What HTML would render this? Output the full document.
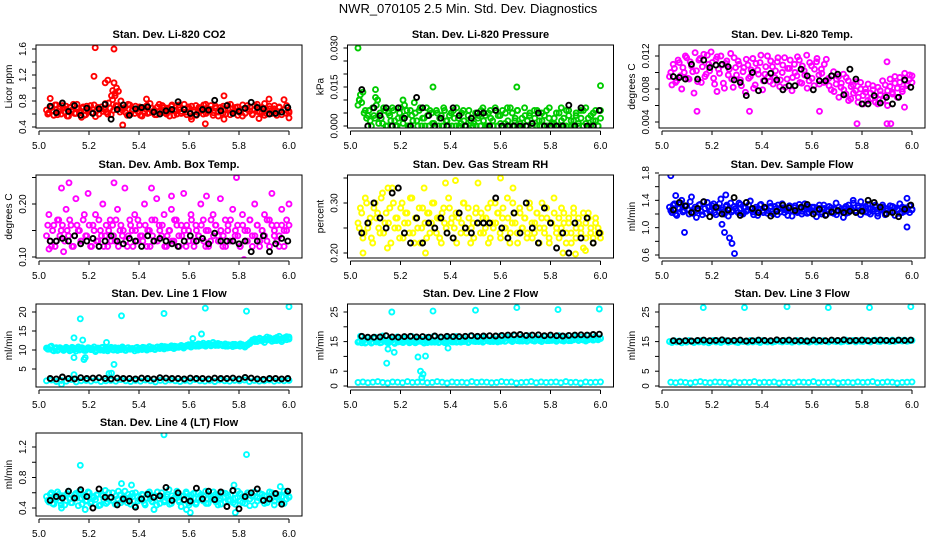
<!DOCTYPE html>
<html><head><meta charset="utf-8"><style>
html,body{margin:0;padding:0;background:#fff}
svg{display:block}
text{font-family:"Liberation Sans",sans-serif;fill:#000}
</style></head><body>
<svg id="chart" width="936" height="540" viewBox="0 0 936 540" xmlns="http://www.w3.org/2000/svg">
<rect width="936" height="540" fill="#fff"/>
<text x="468" y="13" text-anchor="middle" font-size="13">NWR_070105  2.5 Min. Std. Dev. Diagnostics</text>
</svg>
<script>
// ---- data arrays ----
const xTickLabels=["5.0","5.2","5.4","5.6","5.8","6.0"];
const co2Main=[0.66,0.62,0.70,0.58,0.74,0.64,0.60,0.69,0.72,0.57,0.65,0.75,0.61,0.68,0.63,0.71,0.59,0.66,0.73,0.62,0.56,0.70,0.67,0.64,0.76,0.60,0.69,0.82,0.88,0.72,0.63,0.66,0.70,0.58,0.74,0.65,0.61,0.68,0.71,0.57,0.64,0.73,0.62,0.69,0.66,0.59,0.75,0.63,0.70,0.60,0.67,0.72,0.58,0.65,0.74,0.61,0.68,0.63,0.71,0.56,0.66,0.73,0.62,0.69,0.60,0.75,0.64,0.67,0.58,0.72,0.63,0.70,0.61,0.66,0.74,0.59,0.68,0.65,0.71,0.62,0.57,0.69,0.73,0.64,0.60,0.67,0.75,0.63,0.70,0.58,0.66,0.72,0.61,0.68,0.64,0.71,0.59,0.66,0.73,0.62];
const co2Main2=[0.60,0.71,0.65,0.74,0.59,0.68,0.73,0.63,0.57,0.70,0.66,0.61,0.75,0.64,0.69,0.58,0.72,0.67,0.62,0.74,0.65,0.60,0.71,0.68,0.63,0.77,0.59,0.66,0.73,0.95,0.80,0.69,0.62,0.75,0.60,0.67,0.72,0.64,0.58,0.70,0.68,0.61,0.76,0.63,0.59,0.71,0.65,0.73,0.62,0.69,0.57,0.74,0.66,0.60,0.70,0.64,0.75,0.59,0.68,0.72,0.63,0.58,0.70,0.65,0.74,0.61,0.67,0.73,0.62,0.69,0.57,0.66,0.72,0.60,0.68,0.75,0.63,0.70,0.58,0.66,0.74,0.61,0.67,0.71,0.59,0.73,0.64,0.69,0.62,0.76,0.60,0.68,0.65,0.73,0.58,0.70,0.63,0.67,0.61,0.64];
const co2OutX=[5.225,5.30,5.22,5.265,5.275,5.30,5.31,5.295,5.29,5.305,5.045,5.335,5.74,5.665,5.92,5.98,5.61,5.74,5.88,6.0,5.43,5.17];
const co2OutY=[1.62,1.60,1.18,1.08,1.12,1.08,1.0,0.96,0.88,0.92,0.84,0.43,0.88,0.45,0.83,0.82,0.52,0.52,0.53,0.54,0.83,0.55];
const co2Black=[0.72,0.62,0.77,0.64,0.73,0.58,0.69,0.61,0.68,0.75,0.52,0.67,0.74,0.58,0.68,0.70,0.71,0.63,0.60,0.65,0.67,0.79,0.67,0.61,0.59,0.67,0.66,0.81,0.65,0.73,0.61,0.64,0.69,0.78,0.70,0.68,0.60,0.61,0.63,0.70];

const presMain=[0.008,0.012,0.013,0.006,0.004,0.002,0.007,0.003,0.010,0.005,0.001,0.006,0.000,0.004,0.007,0.002,0.000,0.005,0.003,0.008,0.006,0.000,0.004,0.009,0.002,0.006,0.000,0.003,0.007,0.000,0.005,0.001,0.006,0.000,0.004,0.007,0.002,0.000,0.005,0.006,0.000,0.003,0.001,0.006,0.000,0.004,0.002,0.000,0.005,0.003,0.000,0.007,0.004,0.000,0.006,0.002,0.007,0.000,0.004,0.006,0.001,0.007,0.000,0.005,0.002,0.006,0.000,0.003,0.007,0.000,0.004,0.001,0.006,0.000,0.002,0.005,0.000,0.006,0.003,0.000,0.001,0.005,0.000,0.007,0.003,0.000,0.006,0.002,0.000,0.004,0.001,0.006,0.000,0.007,0.003,0.000,0.005,0.002,0.000,0.006];
const presMain2=[0.010,0.009,0.005,0.003,0.006,0.000,0.004,0.008,0.001,0.003,0.007,0.000,0.005,0.002,0.006,0.000,0.003,0.007,0.001,0.004,0.000,0.006,0.002,0.005,0.000,0.007,0.003,0.000,0.004,0.006,0.001,0.000,0.005,0.003,0.000,0.006,0.002,0.004,0.000,0.003,0.007,0.000,0.005,0.002,0.000,0.006,0.003,0.001,0.000,0.004,0.006,0.002,0.000,0.005,0.003,0.000,0.006,0.004,0.001,0.000,0.005,0.002,0.007,0.000,0.003,0.006,0.001,0.000,0.004,0.002,0.005,0.000,0.003,0.006,0.000,0.002,0.004,0.000,0.007,0.001,0.003,0.000,0.005,0.002,0.000,0.006,0.004,0.000,0.002,0.005,0.000,0.003,0.006,0.001,0.000,0.004,0.002,0.006,0.000,0.003];
const presOutX=[5.03,5.10,5.10,5.33,5.665,6.0,5.035,5.21];
const presOutY=[0.030,0.014,0.011,0.015,0.015,0.0155,0.010,0.010];
const presBlack=[0.014,0.000,0.007,0.004,0.007,0.000,0.007,0.003,0.000,0.011,0.007,0.004,0.000,0.003,0.000,0.007,0.004,0.000,0.003,0.005,0.005,0.000,0.006,0.000,0.000,0.000,0.000,0.000,0.001,0.005,0.000,0.000,0.000,0.000,0.008,0.000,0.007,0.000,0.000,0.006];

const tempMain=[0.0095,0.0085,0.0105,0.0090,0.0112,0.0080,0.0100,0.0118,0.0092,0.0108,0.0075,0.0102,0.0115,0.0088,0.0122,0.0098,0.0110,0.0125,0.0093,0.0116,0.0104,0.0120,0.0087,0.0111,0.0097,0.0123,0.0082,0.0106,0.0114,0.0091,0.0101,0.0076,0.0109,0.0095,0.0117,0.0085,0.0103,0.0112,0.0079,0.0098,0.0120,0.0089,0.0107,0.0094,0.0113,0.0083,0.0100,0.0118,0.0092,0.0105,0.0078,0.0110,0.0096,0.0115,0.0087,0.0102,0.0121,0.0090,0.0108,0.0084,0.0113,0.0097,0.0104,0.0088,0.0116,0.0093,0.0079,0.0101,0.0086,0.0095,0.0082,0.0098,0.0074,0.0090,0.0068,0.0085,0.0078,0.0064,0.0088,0.0072,0.0080,0.0066,0.0075,0.0084,0.0070,0.0062,0.0078,0.0090,0.0072,0.0060,0.0083,0.0076,0.0095,0.0070,0.0088,0.0080,0.0099,0.0086,0.0092,0.0096];
const tempMain2=[0.0100,0.0110,0.0088,0.0115,0.0096,0.0106,0.0120,0.0093,0.0113,0.0101,0.0124,0.0089,0.0117,0.0107,0.0095,0.0121,0.0102,0.0112,0.0086,0.0119,0.0099,0.0109,0.0081,0.0114,0.0104,0.0092,0.0118,0.0097,0.0110,0.0084,0.0106,0.0116,0.0093,0.0103,0.0081,0.0111,0.0098,0.0121,0.0090,0.0107,0.0095,0.0114,0.0086,0.0102,0.0118,0.0091,0.0109,0.0082,0.0105,0.0115,0.0094,0.0100,0.0119,0.0088,0.0108,0.0097,0.0081,0.0112,0.0093,0.0104,0.0117,0.0086,0.0099,0.0110,0.0091,0.0084,0.0096,0.0077,0.0092,0.0070,0.0087,0.0079,0.0094,0.0066,0.0083,0.0075,0.0089,0.0070,0.0080,0.0062,0.0076,0.0086,0.0068,0.0079,0.0064,0.0082,0.0073,0.0066,0.0085,0.0078,0.0092,0.0074,0.0087,0.0081,0.0094,0.0077,0.0090,0.0084,0.0097,0.0088];
const tempOutX=[5.14,5.35,5.63,5.78,5.9,5.915,5.9,5.97,5.22];
const tempOutY=[0.0053,0.0053,0.0053,0.0038,0.0038,0.0038,0.0113,0.0058,0.0077];
const tempBlack=[0.0095,0.0094,0.0092,0.0110,0.0092,0.0115,0.0106,0.0109,0.0110,0.0107,0.0091,0.0088,0.0072,0.0100,0.0078,0.0090,0.0099,0.0091,0.0079,0.0084,0.0084,0.0104,0.0096,0.0079,0.0090,0.0090,0.0096,0.0098,0.0073,0.0104,0.0092,0.0062,0.0062,0.0072,0.0063,0.0070,0.0062,0.0070,0.0091,0.0082];

const ambMain=[0.14,0.18,0.12,0.16,0.13,0.17,0.15,0.11,0.19,0.14,0.16,0.12,0.21,0.15,0.13,0.17,0.14,0.22,0.12,0.16,0.18,0.13,0.15,0.20,0.14,0.12,0.17,0.16,0.13,0.19,0.15,0.14,0.23,0.12,0.17,0.15,0.18,0.13,0.16,0.14,0.20,0.12,0.15,0.17,0.13,0.21,0.16,0.14,0.18,0.12,0.15,0.19,0.13,0.17,0.14,0.16,0.22,0.12,0.15,0.18,0.13,0.16,0.14,0.20,0.17,0.12,0.15,0.13,0.18,0.16,0.14,0.21,0.12,0.17,0.15,0.13,0.19,0.14,0.16,0.12,0.18,0.15,0.13,0.17,0.14,0.20,0.16,0.12,0.15,0.18,0.13,0.17,0.22,0.14,0.16,0.12,0.19,0.15,0.17,0.20];
const ambMain2=[0.16,0.13,0.15,0.12,0.17,0.14,0.16,0.13,0.15,0.17,0.12,0.14,0.16,0.15,0.13,0.18,0.14,0.16,0.12,0.15,0.13,0.17,0.14,0.12,0.16,0.15,0.13,0.14,0.17,0.12,0.16,0.15,0.13,0.14,0.16,0.12,0.15,0.17,0.14,0.13,0.16,0.15,0.12,0.14,0.17,0.13,0.15,0.16,0.12,0.14,0.15,0.13,0.17,0.16,0.12,0.14,0.15,0.16,0.13,0.17,0.12,0.15,0.14,0.16,0.13,0.15,0.12,0.17,0.14,0.16,0.13,0.15,0.14,0.12,0.16,0.17,0.13,0.15,0.14,0.12,0.16,0.13,0.15,0.17,0.12,0.14,0.16,0.13,0.15,0.14,0.17,0.12,0.16,0.15,0.13,0.14,0.16,0.12,0.15,0.16];
const ambOutX=[5.04,5.09,5.12,5.30,5.79,5.82,5.45,5.53,5.67];
const ambOutY=[0.115,0.23,0.24,0.24,0.25,0.095,0.23,0.215,0.215];
const ambBlack=[0.13,0.13,0.135,0.13,0.14,0.125,0.13,0.135,0.12,0.13,0.14,0.13,0.125,0.135,0.13,0.12,0.14,0.13,0.135,0.13,0.125,0.12,0.13,0.14,0.13,0.135,0.125,0.145,0.13,0.13,0.13,0.125,0.13,0.11,0.13,0.14,0.11,0.125,0.135,0.13];

const rhMain=[0.26,0.29,0.23,0.31,0.25,0.27,0.22,0.30,0.28,0.24,0.32,0.26,0.21,0.29,0.33,0.25,0.27,0.23,0.30,0.26,0.28,0.24,0.31,0.22,0.27,0.29,0.25,0.33,0.23,0.28,0.26,0.30,0.24,0.27,0.22,0.29,0.25,0.31,0.26,0.23,0.28,0.27,0.24,0.30,0.25,0.29,0.22,0.26,0.28,0.34,0.24,0.27,0.25,0.29,0.23,0.26,0.30,0.28,0.24,0.27,0.25,0.31,0.22,0.26,0.28,0.24,0.29,0.25,0.27,0.23,0.30,0.26,0.24,0.28,0.22,0.27,0.25,0.29,0.23,0.26,0.31,0.24,0.27,0.25,0.28,0.22,0.26,0.24,0.29,0.23,0.27,0.25,0.21,0.26,0.28,0.24,0.23,0.27,0.25,0.24];
const rhMain2=[0.25,0.28,0.24,0.30,0.26,0.23,0.29,0.27,0.25,0.31,0.24,0.28,0.26,0.22,0.30,0.27,0.25,0.29,0.23,0.28,0.26,0.31,0.24,0.27,0.25,0.22,0.29,0.26,0.28,0.24,0.30,0.25,0.27,0.23,0.28,0.26,0.24,0.29,0.27,0.25,0.22,0.28,0.26,0.30,0.24,0.27,0.25,0.23,0.29,0.26,0.28,0.24,0.27,0.22,0.30,0.25,0.26,0.28,0.23,0.29,0.25,0.27,0.24,0.30,0.26,0.22,0.28,0.25,0.27,0.24,0.29,0.23,0.26,0.28,0.25,0.30,0.24,0.27,0.22,0.26,0.28,0.25,0.23,0.29,0.26,0.24,0.27,0.22,0.28,0.25,0.26,0.24,0.28,0.23,0.27,0.25,0.22,0.26,0.24,0.23];
const rhOutX=[5.05,5.15,5.38,5.42,5.60,5.65,5.85,5.90,5.94,5.30];
const rhOutY=[0.20,0.33,0.34,0.345,0.35,0.33,0.20,0.198,0.205,0.20];
const rhBlack=[0.24,0.26,0.30,0.27,0.25,0.32,0.33,0.24,0.22,0.27,0.22,0.26,0.25,0.27,0.24,0.23,0.28,0.25,0.24,0.26,0.26,0.26,0.31,0.25,0.23,0.28,0.24,0.30,0.25,0.22,0.29,0.26,0.21,0.24,0.20,0.26,0.23,0.27,0.22,0.24];

const sfMain=[1.30,1.22,1.35,1.18,1.28,1.40,1.25,1.32,1.20,1.45,1.27,1.15,1.33,1.24,1.38,1.21,1.30,1.26,1.35,1.19,1.29,1.42,1.23,1.31,1.17,1.36,1.25,1.28,1.22,1.34,1.20,1.30,1.26,1.39,1.23,1.27,1.18,1.33,1.25,1.29,1.21,1.36,1.24,1.31,1.19,1.28,1.35,1.22,1.26,1.32,1.17,1.29,1.24,1.34,1.20,1.27,1.31,1.22,1.25,1.30,1.16,1.28,1.23,1.33,1.19,1.26,1.29,1.21,1.36,1.24,1.27,1.15,1.31,1.22,1.28,1.40,1.25,1.32,1.19,1.29,1.23,1.34,1.20,1.27,1.30,1.17,1.26,1.33,1.21,1.28,1.24,1.31,1.18,1.27,1.35,1.22,1.29,1.25,1.32,1.26];
const sfMain2=[1.25,1.33,1.20,1.29,1.36,1.23,1.31,1.27,1.38,1.21,1.30,1.25,1.34,1.19,1.28,1.37,1.24,1.32,1.22,1.29,1.35,1.26,1.20,1.33,1.28,1.23,1.31,1.25,1.36,1.21,1.29,1.24,1.33,1.27,1.19,1.30,1.26,1.34,1.22,1.28,1.25,1.31,1.20,1.27,1.33,1.23,1.29,1.26,1.18,1.30,1.25,1.32,1.22,1.28,1.24,1.35,1.21,1.27,1.30,1.23,1.26,1.33,1.20,1.28,1.25,1.31,1.22,1.27,1.19,1.30,1.24,1.28,1.21,1.33,1.26,1.36,1.23,1.29,1.38,1.25,1.31,1.22,1.28,1.24,1.33,1.21,1.27,1.30,1.19,1.25,1.32,1.23,1.29,1.26,1.21,1.30,1.24,1.28,1.22,1.27];
const sfOutX=[5.035,5.055,5.09,5.24,5.25,5.27,5.28,5.29,5.255,5.98,5.98];
const sfOutY=[1.76,1.47,0.93,1.05,0.93,0.85,0.77,0.62,1.48,1.43,1.01];
const sfBlack=[1.26,1.37,1.32,1.22,1.28,1.38,1.16,1.30,1.20,1.26,1.44,1.18,1.37,1.28,1.22,1.30,1.17,1.24,1.33,1.29,1.25,1.30,1.34,1.20,1.27,1.18,1.23,1.25,1.22,1.24,1.22,1.24,1.40,1.37,1.30,1.20,1.22,1.16,1.27,1.33];

const l1Upper=[10.5,10.2,11.0,9.8,10.6,10.1,10.4,9.9,10.7,10.3,10.0,10.5,9.7,10.8,10.2,10.4,9.9,10.6,10.1,10.3,9.6,10.5,10.0,10.7,10.2,9.8,10.4,10.1,10.6,9.9,10.3,10.8,10.0,10.5,10.2,10.4,9.8,10.7,10.3,10.1,10.6,10.0,10.9,10.4,10.2,10.7,10.5,11.0,10.3,10.8,10.6,11.1,10.4,10.9,10.7,11.2,10.5,11.0,11.4,10.8,11.3,11.0,11.6,11.2,11.8,11.0,11.5,11.3,12.0,11.2,11.7,11.4,11.1,11.6,11.0,11.3,10.9,11.5,11.2,11.0,11.4,10.8,11.3,11.7,12.4,12.9,12.2,13.1,12.6,12.0,13.4,12.8,12.3,13.0,12.5,13.6,12.2,13.2,12.7,13.4];
const l1Upper2=[10.2,10.8,10.0,10.4,9.9,10.6,10.3,10.1,10.5,9.8,10.7,10.2,10.4,10.0,10.6,9.9,10.3,10.5,10.1,10.8,10.0,10.3,10.6,9.9,10.4,10.2,10.7,10.0,10.3,10.5,10.1,10.4,9.9,10.6,10.2,10.3,10.5,10.0,10.4,10.7,10.2,10.5,10.3,10.6,10.1,10.8,10.4,10.6,10.9,10.5,10.8,10.6,11.0,10.7,10.9,11.1,10.8,11.2,11.0,11.5,11.1,11.3,11.0,11.5,11.2,11.4,11.7,11.1,11.4,11.6,11.2,11.5,11.3,11.0,11.4,11.2,11.5,11.1,11.3,11.6,11.2,11.0,11.5,12.0,12.6,12.2,12.8,13.0,12.4,12.9,12.6,13.2,12.8,12.5,13.3,12.9,12.7,13.1,13.5,12.9];
const l1Lower=[1.9,2.1,1.7,2.0,1.8,2.2,1.6,1.9,2.0,1.8,2.1,1.7,1.9,2.0,1.8,2.2,1.9,1.7,2.0,1.8,2.1,1.9,1.6,2.0,1.8,2.1,1.9,1.7,2.0,1.8,2.2,1.9,1.8,2.0,1.7,2.1,1.9,1.8,2.0,1.9,2.1,1.7,2.0,1.8,1.9,2.1,1.8,2.0,1.9,2.0];
const l1OutX=[5.14,5.165,5.175,5.14,5.18,5.185,5.27,5.28,5.29,5.30,5.33,5.50,5.665,5.83,6.0,5.65,5.615,5.09,5.14];
const l1OutY=[13.2,18.2,12.6,8.0,7.5,8.0,12.0,3.8,3.9,6.2,19.0,19.6,21.0,20.2,21.4,14.2,13.0,1.0,3.5];
const l1Black=[2.5,2.4,2.9,2.5,2.4,2.7,2.5,2.6,2.7,2.5,2.4,2.6,2.5,2.5,2.4,2.6,2.5,2.4,2.7,2.6,2.5,2.5,2.4,2.6,2.5,2.5,2.4,2.6,2.5,2.5,2.6,2.4,2.8,2.6,2.4,2.3,2.5,2.5,2.4,2.5];

const l2Upper=[14.8,16.8,15.2,14.5,16.2,15.6,14.9,16.5,15.0,14.6,16.9,15.3,14.7,16.1,15.5,14.4,16.6,15.1,14.8,16.3,15.4,14.6,16.7,15.0,14.9,16.0,15.6,14.5,16.4,15.2,14.8,16.8,15.3,14.7,16.2,15.0,14.6,16.5,15.4,14.9,16.7,15.1,14.8,16.3,15.5,14.7,16.9,15.2,15.0,16.4,15.6,14.8,16.6,15.3,15.0,16.2,15.4,14.9,16.8,15.5,15.1,16.5,15.7,15.0,17.0,15.4,15.2,16.6,15.8,15.1,16.9,15.5,15.2,16.4,15.6,15.0,16.8,15.7,15.3,16.6,15.5,15.1,17.0,15.8,15.2,16.7,15.6,15.3,16.9,15.9,15.4,16.5,15.7,15.2,17.1,15.8,15.5,16.8,15.9,16.2];
const l2Upper2=[15.0,14.6,15.8,14.8,15.4,14.5,16.0,14.9,15.3,14.7,15.7,15.0,14.6,15.5,14.8,16.1,14.9,15.2,14.7,15.8,15.0,14.8,15.4,14.6,15.9,15.1,14.9,15.5,14.7,16.0,15.0,14.8,15.6,14.9,15.3,14.7,15.8,15.1,14.9,15.5,14.8,16.0,15.2,15.0,15.6,14.9,15.4,15.1,15.8,15.0,15.3,15.1,16.0,15.2,15.5,15.0,15.8,15.3,15.1,15.6,15.2,16.1,15.4,15.2,15.7,15.3,15.9,15.2,15.5,15.3,16.0,15.4,15.2,15.7,15.3,16.2,15.5,15.3,15.8,15.4,16.0,15.3,15.6,15.4,16.1,15.5,15.3,15.8,15.6,16.2,15.4,15.7,15.5,16.0,15.6,16.3,15.5,15.8,15.6,16.0];
const l2Lower=[1.2,1.4,1.1,1.3,1.5,1.2,1.0,1.4,1.3,1.1,1.5,1.2,1.3,1.4,1.1,1.2,1.5,1.3,1.0,1.4,1.2,1.3,1.1,1.5,1.2,1.4,1.3,1.1,1.2,1.5,1.3,1.4,1.0,1.2,1.3,1.5,1.1,1.4,1.2,1.3,1.4,1.1,1.5,1.2,1.3,1.0,1.4,1.2,1.3,1.4];
const l2OutX=[5.165,5.33,5.50,5.665,5.83,5.995,5.15,5.145,5.175,5.27,5.30,5.28,5.29,5.285,5.39];
const l2OutY=[25,25.3,25.6,26.5,25.8,26,12.5,7.7,11.4,9.8,10.1,5.0,4.0,2.8,12.8];
const l2Black=[16.8,16.5,16.5,16.6,17.0,16.6,16.5,16.7,16.8,16.6,16.7,16.5,16.9,16.6,16.8,16.7,16.7,16.8,17.0,16.8,16.9,17.0,16.9,17.1,17.2,17.3,17.4,17.1,17.2,17.3,17.0,17.2,17.0,16.9,17.1,17.2,17.3,17.2,17.4,17.5];

const l3Upper=[15.0,14.7,15.3,14.9,15.2,14.6,15.1,14.8,15.4,15.0,14.7,15.2,14.9,15.3,14.8,15.1,14.6,15.0,15.4,14.9,15.2,14.7,15.1,15.3,14.8,15.0,15.2,14.9,14.7,15.3,15.0,15.1,14.8,15.4,14.9,15.2,15.0,14.7,15.3,15.1,14.9,15.2,14.8,15.0,15.4,15.1,14.9,15.3,15.0,15.2,14.8,15.1,15.4,14.9,15.2,15.0,15.3,14.8,15.1,15.5,14.9,15.2,15.0,15.3,15.1,14.9,15.4,15.2,15.0,15.3,14.9,15.1,15.5,15.0,15.2,15.4,14.9,15.3,15.1,15.0,15.4,15.2,14.9,15.3,15.5,15.1,15.0,15.4,15.2,15.3,15.0,15.5,15.1,15.3,15.4,15.2,15.5,15.1,15.3,15.4];
const l3Lower=[1.3,1.1,1.4,1.2,1.0,1.3,1.5,1.2,1.1,1.4,1.3,1.2,1.0,1.4,1.1,1.3,1.2,1.5,1.1,1.3,1.2,1.4,1.0,1.3,1.2,1.1,1.4,1.3,1.2,1.5,1.1,1.3,1.2,1.4,1.0,1.2,1.3,1.1,1.4,1.2,1.3,1.5,1.1,1.2,1.4,1.3,1.0,1.2,1.3,1.4];
const l3OutX=[5.165,5.33,5.50,5.665,5.83,5.995];
const l3OutY=[26.5,26.5,26.8,26.5,26.5,26.8];
const l3Black=[15.3,15.1,15.3,15.2,15.4,15.5,15.3,15.4,15.6,15.3,15.4,15.5,15.2,15.3,15.5,15.4,15.3,15.6,15.4,15.5,15.3,15.4,15.2,15.5,15.4,15.3,15.5,15.4,15.6,15.3,15.4,15.5,15.3,15.4,15.5,15.4,15.3,15.5,15.4,15.5];

const l4Main=[0.55,0.48,0.60,0.45,0.52,0.58,0.44,0.56,0.50,0.62,0.47,0.54,0.59,0.43,0.53,0.57,0.49,0.61,0.46,0.55,0.51,0.58,0.44,0.56,0.63,0.48,0.53,0.60,0.45,0.52,0.57,0.50,0.62,0.47,0.54,0.59,0.43,0.55,0.51,0.58,0.46,0.53,0.61,0.49,0.56,0.44,0.52,0.60,0.48,0.55,0.64,0.46,0.53,0.58,0.50,0.42,0.56,0.61,0.47,0.54,0.59,0.45,0.52,0.57,0.49,0.62,0.46,0.55,0.51,0.58,0.44,0.53,0.60,0.48,0.56,0.50,0.63,0.45,0.54,0.59,0.47,0.52,0.57,0.43,0.55,0.61,0.49,0.53,0.58,0.46,0.56,0.51,0.60,0.44,0.54,0.57,0.48,0.62,0.52,0.55];
const l4Main2=[0.50,0.58,0.46,0.54,0.61,0.49,0.56,0.44,0.59,0.52,0.47,0.57,0.53,0.62,0.45,0.55,0.50,0.60,0.48,0.54,0.57,0.43,0.58,0.51,0.46,0.60,0.53,0.49,0.56,0.62,0.47,0.54,0.51,0.58,0.45,0.55,0.60,0.49,0.53,0.57,0.44,0.59,0.52,0.48,0.56,0.61,0.46,0.54,0.50,0.58,0.45,0.56,0.52,0.62,0.48,0.55,0.50,0.59,0.44,0.57,0.53,0.47,0.60,0.51,0.55,0.46,0.58,0.52,0.61,0.48,0.56,0.45,0.54,0.59,0.50,0.57,0.47,0.53,0.62,0.49,0.55,0.46,0.60,0.52,0.57,0.44,0.54,0.59,0.50,0.56,0.47,0.61,0.53,0.49,0.58,0.51,0.55,0.46,0.59,0.54];
const l4OutX=[5.5,5.83,5.165,5.33,5.37,5.78,5.965,5.46,5.59,5.605,5.785,5.09,5.185];
const l4OutY=[1.36,1.10,0.96,0.72,0.70,0.70,0.68,0.38,0.38,0.34,0.34,0.40,0.38];
const l4Black=[0.50,0.55,0.53,0.62,0.53,0.64,0.55,0.40,0.65,0.54,0.54,0.44,0.52,0.49,0.41,0.52,0.58,0.54,0.56,0.67,0.50,0.60,0.51,0.49,0.66,0.52,0.62,0.51,0.61,0.42,0.63,0.39,0.55,0.60,0.65,0.50,0.52,0.59,0.45,0.62];

// ---- layout ----
const NS="http://www.w3.org/2000/svg";
const svg=document.getElementById('chart');
function el(tag,attrs,parent){const e=document.createElementNS(NS,tag);for(const k in attrs)e.setAttribute(k,attrs[k]);(parent||svg).appendChild(e);return e;}

const panels=[
 {key:'co2',title:'Stan. Dev. Li-820 CO2',ylab:'Licor ppm',col:0,row:0,color:'#ff0000',ya:0.4,yap:127,yb:1.6,ybp:49,ticks:[0.4,0.6,0.8,1.0,1.2,1.4,1.6],labels:["0.4","0.8","1.2","1.6"],main:[co2Main,co2Main2],ox:co2OutX,oy:co2OutY,blk:co2Black},
 {key:'pressure',title:'Stan. Dev. Li-820 Pressure',ylab:'kPa',col:1,row:0,color:'#00cc00',ya:0,yap:126,yb:0.03,ybp:48,ticks:[0,0.005,0.01,0.015,0.02,0.025,0.03],labels:["0.000","0.015","0.030"],main:[presMain,presMain2],ox:presOutX,oy:presOutY,blk:presBlack},
 {key:'temp',title:'Stan. Dev. Li-820 Temp.',ylab:'degrees C',col:2,row:0,color:'#ff00ff',ya:0.004,yap:122,yb:0.012,ybp:56,ticks:[0.004,0.006,0.008,0.010,0.012],labels:["0.004","0.008","0.012"],main:[tempMain,tempMain2],ox:tempOutX,oy:tempOutY,blk:tempBlack},
 {key:'ambbox',title:'Stan. Dev. Amb. Box Temp.',ylab:'degrees C',col:0,row:1,color:'#ff00ff',ya:0.10,yap:257,yb:0.20,ybp:204,ticks:[0.10,0.15,0.20,0.25],labels:["0.10","0.20"],main:[ambMain,ambMain2],ox:ambOutX,oy:ambOutY,blk:ambBlack},
 {key:'rh',title:'Stan. Dev. Gas Stream RH',ylab:'percent',col:1,row:1,color:'#ffff00',ya:0.20,yap:253,yb:0.30,ybp:203,ticks:[0.20,0.25,0.30,0.35],labels:["0.20","0.30"],main:[rhMain,rhMain2],ox:rhOutX,oy:rhOutY,blk:rhBlack},
 {key:'sampleflow',title:'Stan. Dev. Sample Flow',ylab:'ml/min',col:2,row:1,color:'#0000ff',ya:0.6,yap:255,yb:1.8,ybp:173,ticks:[0.6,0.8,1.0,1.2,1.4,1.6,1.8],labels:["0.6","1.0","1.4","1.8"],main:[sfMain,sfMain2],ox:sfOutX,oy:sfOutY,blk:sfBlack},
 {key:'line1',title:'Stan. Dev. Line 1 Flow',ylab:'ml/min',col:0,row:2,color:'#00ffff',ya:5,yap:369,yb:20,ybp:312,ticks:[5,10,15,20],labels:["5","10","15","20"],main:[l1Upper,l1Upper2,l1Lower],ox:l1OutX,oy:l1OutY,blk:l1Black},
 {key:'line2',title:'Stan. Dev. Line 2 Flow',ylab:'ml/min',col:1,row:2,color:'#00ffff',ya:0,yap:386,yb:25,ybp:312,ticks:[0,5,10,15,20,25],labels:["0","5","15","25"],main:[l2Upper,l2Upper2,l2Lower],ox:l2OutX,oy:l2OutY,blk:l2Black},
 {key:'line3',title:'Stan. Dev. Line 3 Flow',ylab:'ml/min',col:2,row:2,color:'#00ffff',ya:0,yap:386,yb:25,ybp:312,ticks:[0,5,10,15,20,25],labels:["0","5","15","25"],main:[l3Upper,l3Lower],ox:l3OutX,oy:l3OutY,blk:l3Black},
 {key:'line4',title:'Stan. Dev. Line 4 (LT) Flow',ylab:'ml/min',col:0,row:3,color:'#00ffff',ya:0.4,yap:508,yb:1.2,ybp:447,ticks:[0.4,0.6,0.8,1.0,1.2],labels:["0.4","0.8","1.2"],main:[l4Main,l4Main2],ox:l4OutX,oy:l4OutY,blk:l4Black}
];
const rowTop=[45,175,304,433];
const BOXH=83, BOXW=266;

panels.forEach(p=>{
  const L=36+311.5*p.col, T=rowTop[p.row], B=T+BOXH, R=L+BOXW;
  const xs=v=>L+3+(v-5.0)*250;
  const ys=v=>p.yap+(v-p.ya)*(p.ybp-p.yap)/(p.yb-p.ya);
  const g=el('g',{});
  
  
  const t=el('text',{x:(L+R)/2,y:T-7,'text-anchor':'middle','font-size':'11','font-weight':'bold'},g);
  
  
  t.textContent=p.title;
  const clip=el('clipPath',{id:'clip-'+p.key},g);
  el('rect',{x:L,y:T,width:BOXW,height:BOXH},clip);
  const pts=el('g',{'clip-path':'url(#clip-'+p.key+')',fill:'none','stroke-width':'1.9'},g);
  
  
  const dot=(x,y,col,name)=>{const c=el('circle',{cx:xs(x).toFixed(1),cy:ys(y).toFixed(1),r:2.5,stroke:col},pts);
    
    };
  p.main.forEach((arr,si)=>{const off=(si%2)*0.005;arr.forEach((v,i)=>dot(5.03+off+(0.97-off)*i/(arr.length-1),v,p.color,p.key+'-point'));});
  p.ox.forEach((x,i)=>dot(x,p.oy[i],p.color,p.key+'-outlier'));
  p.blk.forEach((v,i)=>dot(5.045+0.95*i/(p.blk.length-1),v,'#000',p.key+'-ref-point'));
  const box=el('rect',{x:L,y:T,width:BOXW,height:BOXH,fill:'none',stroke:'#000','stroke-width':'1'},g);
  
  
  const xa=el('g',{},g);
  
  
  el('line',{x1:xs(5),x2:xs(6),y1:B+3,y2:B+3,stroke:'#000'},xa);
  xTickLabels.forEach(lbl=>{const v=parseFloat(lbl);
    el('line',{x1:xs(v),x2:xs(v),y1:B+3,y2:B+7,stroke:'#000'},xa);
    const tt=el('text',{x:xs(v),y:B+21,'text-anchor':'middle','font-size':'10'},xa);
    
    
    tt.textContent=lbl;});
  const ya=el('g',{},g);
  
  
  p.ticks.forEach(v=>el('line',{x1:L-4,x2:L,y1:ys(v),y2:ys(v),stroke:'#000'},ya));
  p.labels.forEach(lbl=>{const v=parseFloat(lbl);const yy=ys(v);
    const tt=el('text',{x:L-10,y:yy,'text-anchor':'middle','font-size':'10',transform:`rotate(-90 ${L-10} ${yy})`},ya);
    
    
    tt.textContent=lbl;});
  const yt=el('text',{x:L-27,y:(T+B)/2,'text-anchor':'middle','font-size':'10',transform:`rotate(-90 ${L-27} ${(T+B)/2})`,dy:'3'},g);
  
  
  yt.textContent=p.ylab;
});
</script>
</body></html>
